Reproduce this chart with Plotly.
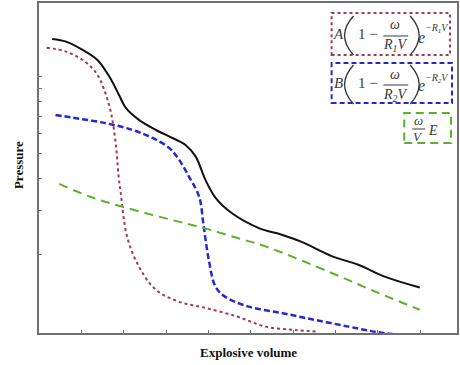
import plotly.graph_objects as go

# ---- data (x: explosive volume, y: pressure, log axis) ----
total_x = [0.31, 0.64, 1.03, 1.38, 1.66, 1.89, 2.05, 2.36, 2.76, 3.15, 3.46, 3.70, 3.93, 4.17, 4.55, 5.19, 5.73, 6.20, 6.91, 7.54, 8.18, 8.99]
total_y = [14.06, 13.73, 12.74, 11.63, 10.01, 8.48, 7.54, 6.77, 6.18, 5.75, 5.40, 4.86, 3.94, 3.35, 2.92, 2.55, 2.40, 2.25, 1.98, 1.83, 1.64, 1.49]

term1_x = [0.18, 0.64, 1.03, 1.35, 1.54, 1.70, 1.82, 1.88, 1.93, 2.08, 2.36, 2.76, 3.31, 3.93, 4.69, 5.35, 6.05, 6.60]
term1_y = [13.0, 12.54, 11.63, 10.35, 8.88, 7.21, 5.32, 4.06, 3.50, 2.36, 1.80, 1.46, 1.31, 1.24, 1.145, 1.047, 1.016, 1.00]

term2_x = [0.39, 0.79, 1.58, 2.21, 2.68, 3.07, 3.31, 3.54, 3.78, 3.89, 4.01, 4.17, 4.40, 4.95, 5.73, 6.52, 7.31, 7.93, 8.55]
term2_y = [7.08, 6.91, 6.57, 6.18, 5.75, 5.26, 4.72, 4.06, 3.39, 2.58, 1.91, 1.50, 1.37, 1.254, 1.184, 1.112, 1.047, 1.00, 0.97]

term3_x = [0.48, 1.19, 1.97, 3.15, 3.89, 4.69, 5.35, 6.91, 8.01, 8.99]
term3_y = [3.80, 3.39, 3.09, 2.74, 2.55, 2.33, 2.16, 1.70, 1.42, 1.22]

x_ticks = [1, 2, 3, 4, 5, 6, 7, 8, 9]
y_ticks = [2, 3, 4, 5, 6, 7, 8, 9, 10]

x_title = "Explosive volume"
y_title = "Pressure"

W, H = 460, 365
L, R, T, B = 39, 1, 3, 32
PW, PH = W - L - R, H - T - B


def px(xpix):
    return (xpix - L) / PW


def py(ypix):
    return (H - B - ypix) / PH


fig = go.Figure()
fig.add_trace(go.Scatter(x=total_x, y=total_y, mode="lines", line=dict(color="#111111", width=2, shape="spline")))
fig.add_trace(go.Scatter(x=term1_x, y=term1_y, mode="lines", line=dict(color="#a03a55", width=2, dash="dot", shape="spline")))
fig.add_trace(go.Scatter(x=term2_x, y=term2_y, mode="lines", line=dict(color="#2828d0", width=2.5, dash="6px,3px", shape="spline")))
fig.add_trace(go.Scatter(x=term3_x, y=term3_y, mode="lines", line=dict(color="#5cb030", width=2, dash="9px,6px", shape="spline")))

shapes = []
annotations = []
FONT = "Liberation Serif"
TXT = "#3a3a3a"


def ann(x, y, text, size, italic=True):
    t = f"<i>{text}</i>" if italic else text
    annotations.append(dict(x=px(x), y=py(y), xref="paper", yref="paper", text=t, showarrow=False,
                            xanchor="center", yanchor="middle",
                            font=dict(family=FONT, size=size, color=TXT)))


def hline(x0, x1, y):
    shapes.append(dict(type="line", xref="paper", yref="paper", x0=px(x0), x1=px(x1), y0=py(y), y1=py(y),
                       line=dict(color=TXT, width=1)))


def paren(x, y0, y1, bulge):
    ym = (y0 + y1) / 2
    path = f"M {px(x)},{py(y0)} Q {px(x + bulge)},{py(ym)} {px(x)},{py(y1)}"
    shapes.append(dict(type="path", xref="paper", yref="paper", path=path,
                       line=dict(color=TXT, width=1.4)))


def box(x0, x1, y0, y1, color, dash):
    shapes.append(dict(type="rect", xref="paper", yref="paper", x0=px(x0), x1=px(x1), y0=py(y1), y1=py(y0),
                       line=dict(color=color, width=2, dash=dash), fillcolor="rgba(0,0,0,0)"))


# equation boxes
box(333, 452, 13, 55, "#a03a55", "dot")
box(333, 454, 63, 103, "#2828d0", "5px,3px")
box(406, 453, 113, 143, "#5cb030", "8px,5px")

for (cy, letter, sub) in [(34, "A", "1"), (83, "B", "2")]:
    ann(340, cy, letter, 15)
    paren(355, cy - 18, cy + 21, -18)
    ann(370, cy, "1 −", 15, italic=False)
    ann(397, cy - 9, "ω", 14)
    hline(385, 410, cy + 2)
    ann(397, cy + 12, f"R<sub>{sub}</sub>V", 14)
    paren(412, cy - 18, cy + 21, 18)
    ann(423, cy + 3, "e", 16)
    ann(439, cy - 5, f"−R<sub>{sub}</sub>V", 10)

ann(420, 121, "ω", 13)
hline(414, 427, 129)
ann(420, 137, "V", 13)
ann(435, 130, "E", 14)

axis_common = dict(showline=True, linecolor="#707070", linewidth=2, mirror=True, ticks="inside",
                   ticklen=3, tickwidth=1, tickcolor="#707070", showgrid=False, zeroline=False,
                   showticklabels=False)

fig.update_layout(
    width=W, height=H,
    margin=dict(l=L, r=R, t=T, b=B),
    paper_bgcolor="white", plot_bgcolor="white",
    showlegend=False,
    xaxis=dict(range=[0, 9.87], tickvals=x_ticks, **axis_common),
    yaxis=dict(type="log", range=[-0.005, 1.289], tickvals=y_ticks, **axis_common),
    shapes=shapes,
    annotations=annotations + [
        dict(x=0.5, y=-(352 - (H - B)) / PH, xref="paper", yref="paper", text=f"<b>{x_title}</b>",
             showarrow=False, xanchor="center", yanchor="middle",
             font=dict(family=FONT, size=13, color="#111111")),
        dict(x=-(L - 18) / PW, y=py(165), xref="paper", yref="paper", text=f"<b>{y_title}</b>",
             showarrow=False, xanchor="center", yanchor="middle", textangle=-90,
             font=dict(family=FONT, size=13, color="#111111")),
    ],
)

fig.write_html("out.html", config={"displayModeBar": False},
               post_script="document.body.style.margin='0';document.body.style.overflow='hidden';")
